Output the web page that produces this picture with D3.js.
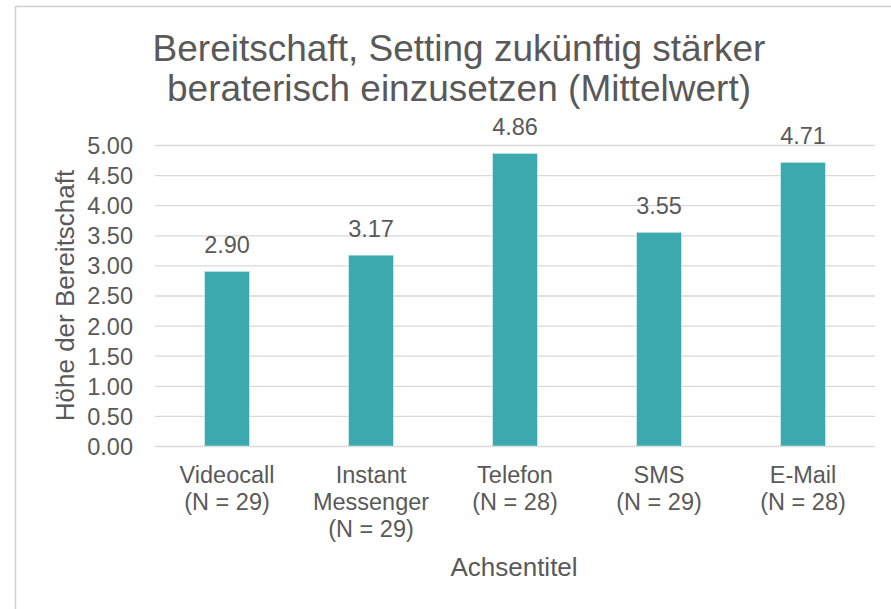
<!DOCTYPE html>
<html>
<head>
<meta charset="utf-8">
<script src="https://cdn.jsdelivr.net/npm/d3@7"></script>
<style>
	body { margin: 0; background: #fff; }
	text { font-family: "Liberation Sans", Arial, sans-serif; fill: #595959; }
</style>
</head>
<body>
<script>
var categories = ["Videocall", "Instant Messenger", "Telefon", "SMS", "E-Mail"]
var categoryLines = [
	["Videocall", "(N = 29)"],
	["Instant", "Messenger", "(N = 29)"],
	["Telefon", "(N = 28)"],
	["SMS", "(N = 29)"],
	["E-Mail", "(N = 28)"]
]
var means = [2.90, 3.17, 4.86, 3.55, 4.71]
var yTicks = [0, 0.5, 1, 1.5, 2, 2.5, 3, 3.5, 4, 4.5, 5]
var titleLines = ["Bereitschaft, Setting zukünftig stärker", "beraterisch einzusetzen (Mittelwert)"]
var xTitle = "Achsentitel"
var yTitle = "Höhe der Bereitschaft"

function main() {
	var w = 891
	var h = 609
	var left = 155, right = 875, top = 145, bottom = 446

	var svg = d3.select("body")
		.append("svg")
		.attr("width", w)
		.attr("height", h)

	// chart frame
	svg.append("rect")
		.attr("x", 15.5)
		.attr("y", 6.5)
		.attr("width", 900)
		.attr("height", 620)
		.attr("fill", "white")
		.attr("stroke", "#d0d0d0")
		.attr("stroke-width", 1.5)

	var xScale = d3.scaleBand()
		.domain(categories)
		.range([left, right])
		.paddingInner(0.69)
		.paddingOuter(0.345)

	var yScale = d3.scaleLinear()
		.domain([0, 5])
		.range([bottom, top])

	// gridlines
	var grid = svg.append("g")
		.attr("transform", "translate(" + left + ",0)")
		.call(d3.axisLeft(yScale).tickValues(yTicks).tickSize(-(right - left)).tickFormat(""))
	grid.select(".domain").remove()
	grid.selectAll("line").attr("stroke", "#d9d9d9").attr("stroke-width", 1.3)

	// y axis labels
	var yAxis = svg.append("g")
		.attr("transform", "translate(133,0)")
		.call(d3.axisLeft(yScale).tickValues(yTicks).tickSize(0).tickPadding(0).tickFormat(d3.format(".2f")))
	yAxis.select(".domain").remove()
	yAxis.selectAll("text")
		.style("font-size", "23.5px")
		.attr("fill", "#595959")
		.attr("dy", "0.36em")

	// bars
	svg.selectAll(".bar")
		.data(means)
		.enter().append("rect")
		.attr("class", "bar")
		.attr("x", (d, i) => xScale(categories[i]))
		.attr("y", (d) => yScale(d))
		.attr("width", xScale.bandwidth())
		.attr("height", (d) => yScale(0) - yScale(d))
		.attr("fill", "#3ca9ae")
		.attr("stroke", "#cfeaeb")
		.attr("stroke-width", 0.6)

	// data labels
	svg.selectAll(".label")
		.data(means)
		.enter().append("text")
		.attr("class", "label")
		.attr("x", (d, i) => xScale(categories[i]) + xScale.bandwidth() / 2)
		.attr("y", (d) => yScale(d) - 18)
		.attr("text-anchor", "middle")
		.style("font-size", "23.5px")
		.attr("fill", "#404040")
		.text((d) => d3.format(".2f")(d))

	// category labels
	var cat = svg.selectAll(".cat")
		.data(categoryLines)
		.enter().append("text")
		.attr("class", "cat")
		.attr("text-anchor", "middle")
		.style("font-size", "23.5px")
		.attr("transform", (d, i) => "translate(" + (xScale(categories[i]) + xScale.bandwidth() / 2) + ",483)")
	cat.selectAll("tspan")
		.data((d) => d)
		.enter().append("tspan")
		.attr("x", 0)
		.attr("y", (d, i) => i * 27)
		.text((d) => d)

	// axis titles
	svg.append("text")
		.attr("x", (left + right) / 2 - 1)
		.attr("y", 576)
		.attr("text-anchor", "middle")
		.style("font-size", "26px")
		.text(xTitle)

	svg.append("text")
		.attr("transform", "translate(74,295.5) rotate(-90)")
		.attr("text-anchor", "middle")
		.style("font-size", "26px")
		.text(yTitle)

	// title
	svg.append("text")
		.attr("text-anchor", "middle")
		.style("font-size", "37px")
		.selectAll("tspan")
		.data(titleLines)
		.enter().append("tspan")
		.attr("x", 459)
		.attr("y", (d, i) => 61 + i * 40)
		.text((d) => d)
}

main()
</script>
</body>
</html>
